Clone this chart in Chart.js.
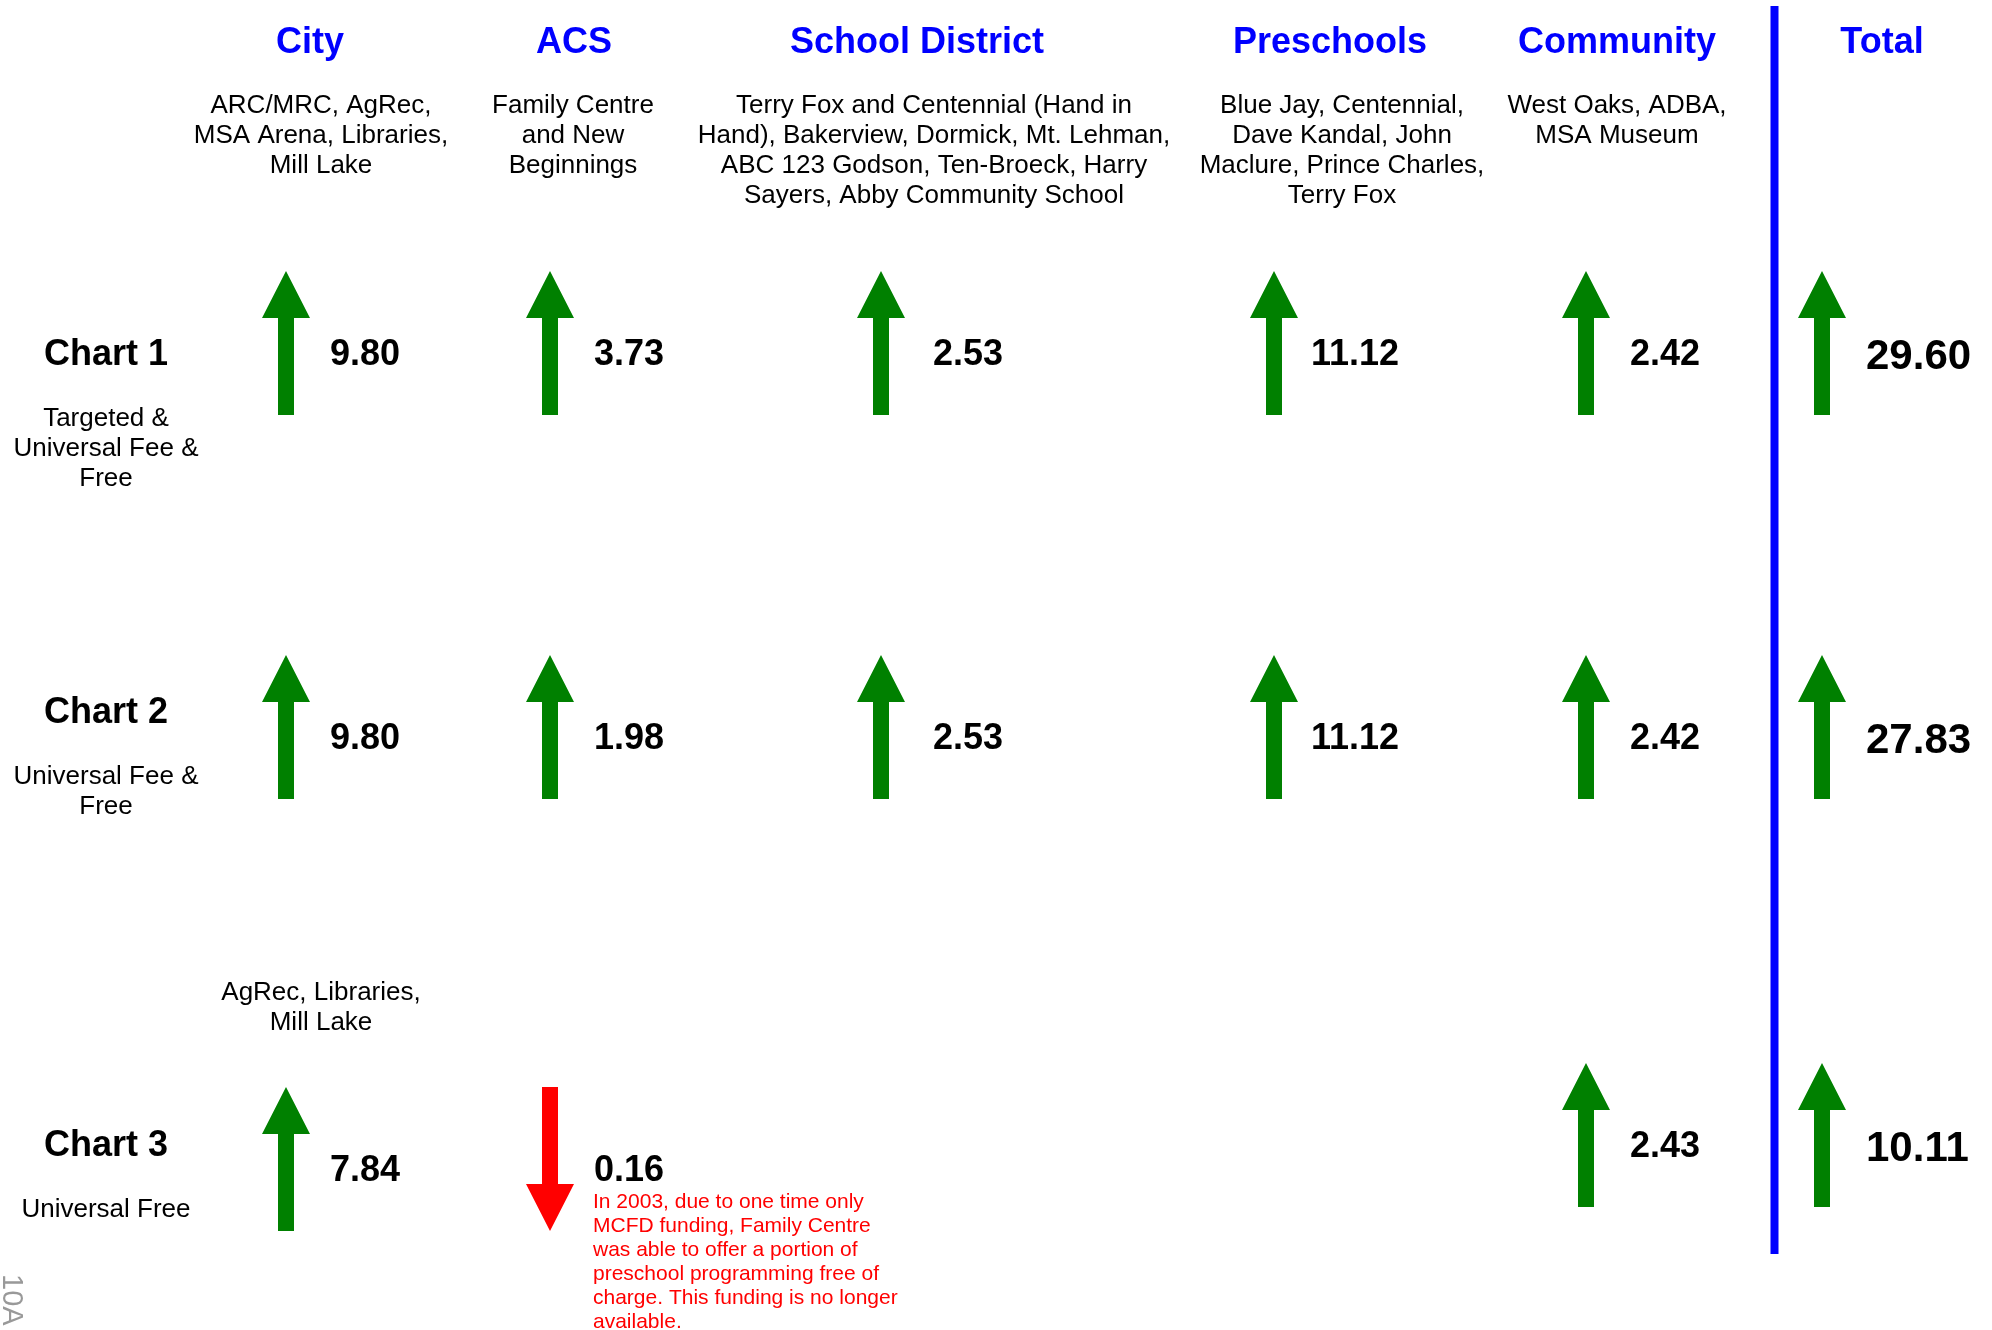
<!DOCTYPE html>
<html>
<head>
<meta charset="utf-8">
<script src="https://cdn.jsdelivr.net/npm/chart.js@4.4.1/dist/chart.umd.min.js"></script>
<style>
  html, body { margin: 0; padding: 0; background: #fff; }
  canvas { display: block; }
</style>
</head>
<body>
<canvas id="arrowChart" width="1992" height="1330"></canvas>
<script>
// ---- data ----
const columns = ["City", "ACS", "School District", "Preschools", "Community", "Total"];
const columnNotes = [
  ["ARC/MRC, AgRec,", "MSA Arena, Libraries,", "Mill Lake"],
  ["Family Centre", "and New", "Beginnings"],
  ["Terry Fox and Centennial (Hand in", "Hand), Bakerview, Dormick, Mt. Lehman,", "ABC 123 Godson, Ten-Broeck, Harry", "Sayers, Abby Community School"],
  ["Blue Jay, Centennial,", "Dave Kandal, John", "Maclure, Prince Charles,", "Terry Fox"],
  ["West Oaks, ADBA,", "MSA Museum"],
  []
];
const rows = ["Chart 1", "Chart 2", "Chart 3"];
const rowNotes = [
  ["Targeted &", "Universal Fee &", "Free"],
  ["Universal Fee &", "Free"],
  ["Universal Free"]
];
const chart1Values = [9.80, 3.73, 2.53, 11.12, 2.42, 29.60];
const chart2Values = [9.80, 1.98, 2.53, 11.12, 2.42, 27.83];
const chart3Values = [7.84, -0.16, null, null, 2.43, 10.11]; // negative = decrease (red arrow)
const chart3CityNote = ["AgRec, Libraries,", "Mill Lake"];
const chart3AcsNote = [
  "In 2003, due to one time only",
  "MCFD funding, Family Centre",
  "was able to offer a portion of",
  "preschool programming free of",
  "charge. This funding is no longer",
  "available."
];
const seriesValues = [chart1Values, chart2Values, chart3Values];

// ---- layout (scale units = page pixels) ----
const arrowX = [286, 550, 881, 1274, 1586, 1822];
const labelDx = [44, 44, 52, 37, 44, 44];
const titleX = [310, 574, 917, 1330, 1617, 1882];
const noteX = [321, 573, 934, 1342, 1617, 1882];
const rowY = [343, 727, 1159];
const dividerX = 1774.5;
const FONT = '"Liberation Sans", Arial, Helvetica, sans-serif';

function cellY(r, c) {
  // community and total arrows of chart 3 sit a little higher
  return rowY[r] + (r === 2 && c >= 4 ? -24 : 0);
}

function makeArrow(color, down) {
  const cv = document.createElement("canvas");
  cv.width = 48;
  cv.height = 144;
  const g = cv.getContext("2d");
  g.fillStyle = color;
  g.beginPath();
  if (!down) {
    g.moveTo(24, 0); g.lineTo(48, 47); g.lineTo(32, 47); g.lineTo(32, 144);
    g.lineTo(16, 144); g.lineTo(16, 47); g.lineTo(0, 47);
  } else {
    g.moveTo(24, 144); g.lineTo(48, 97); g.lineTo(32, 97); g.lineTo(32, 0);
    g.lineTo(16, 0); g.lineTo(16, 97); g.lineTo(0, 97);
  }
  g.closePath();
  g.fill();
  return cv;
}
const upArrow = makeArrow("#008000", false);
const downArrow = makeArrow("#FF0000", true);

const arrowPoints = [];
seriesValues.forEach((vals, r) => {
  vals.forEach((v, c) => {
    if (v === null) return;
    arrowPoints.push({ x: arrowX[c], y: cellY(r, c), v: v, r: r, c: c });
  });
});

const textPlugin = {
  id: "tableText",
  afterDatasetsDraw(chart) {
    const ctx = chart.ctx;
    const sx = chart.scales.x, sy = chart.scales.y;
    const put = (str, x, y, font, color, align) => {
      ctx.font = font;
      ctx.fillStyle = color;
      ctx.textAlign = align || "center";
      ctx.textBaseline = "alphabetic";
      ctx.fillText(str, sx.getPixelForValue(x), sy.getPixelForValue(y));
    };
    ctx.save();
    // column headers
    columns.forEach((name, c) => {
      put(name, titleX[c], 53, "bold 36px " + FONT, "#0000FF");
      columnNotes[c].forEach((line, i) => put(line, noteX[c], 113 + i * 30, "26px " + FONT, "#000"));
    });
    // row headers
    rows.forEach((name, r) => {
      const base = [365, 723, 1156][r];
      put(name, 106, base, "bold 36px " + FONT, "#000");
      rowNotes[r].forEach((line, i) => put(line, 106, base + 61 + i * 30, "26px " + FONT, "#000"));
    });
    // values next to arrows
    arrowPoints.forEach(p => {
      const big = p.c === columns.length - 1;
      const txt = Math.abs(p.v).toFixed(2);
      put(txt, p.x + labelDx[p.c], p.y + (big ? 26 : 22), (big ? "bold 42px " : "bold 36px ") + FONT, "#000", "left");
    });
    // chart 3 extra notes
    chart3CityNote.forEach((line, i) => put(line, noteX[0], 1000 + i * 30, "26px " + FONT, "#000"));
    chart3AcsNote.forEach((line, i) => put(line, 593, 1208 + i * 24, "21px " + FONT, "#FF0000", "left"));
    // page mark
    ctx.translate(sx.getPixelForValue(3), sy.getPixelForValue(1274));
    ctx.rotate(Math.PI / 2);
    ctx.font = "29px " + FONT;
    ctx.fillStyle = "#999";
    ctx.textAlign = "left";
    ctx.fillText("10A", 0, 0);
    ctx.restore();
  }
};

new Chart(document.getElementById("arrowChart").getContext("2d"), {
  type: "scatter",
  data: {
    datasets: [
      {
        label: "change",
        data: arrowPoints,
        pointStyle: ctx => (ctx.raw && ctx.raw.v < 0 ? downArrow : upArrow),
        pointRadius: 10,
        pointHoverRadius: 10
      },
      {
        label: "divider",
        data: [{ x: dividerX, y: 6 }, { x: dividerX, y: 1254 }],
        showLine: true,
        borderColor: "#0000FF",
        borderWidth: 8,
        borderCapStyle: "butt",
        pointRadius: 0
      }
    ]
  },
  options: {
    responsive: false,
    animation: false,
    events: [],
    layout: { padding: 0, autoPadding: false },
    plugins: {
      legend: { display: false },
      tooltip: { enabled: false }
    },
    scales: {
      x: { type: "linear", min: 0, max: 1992, display: false },
      y: { type: "linear", min: 0, max: 1330, reverse: true, display: false }
    }
  },
  plugins: [textPlugin]
});
</script>
</body>
</html>
